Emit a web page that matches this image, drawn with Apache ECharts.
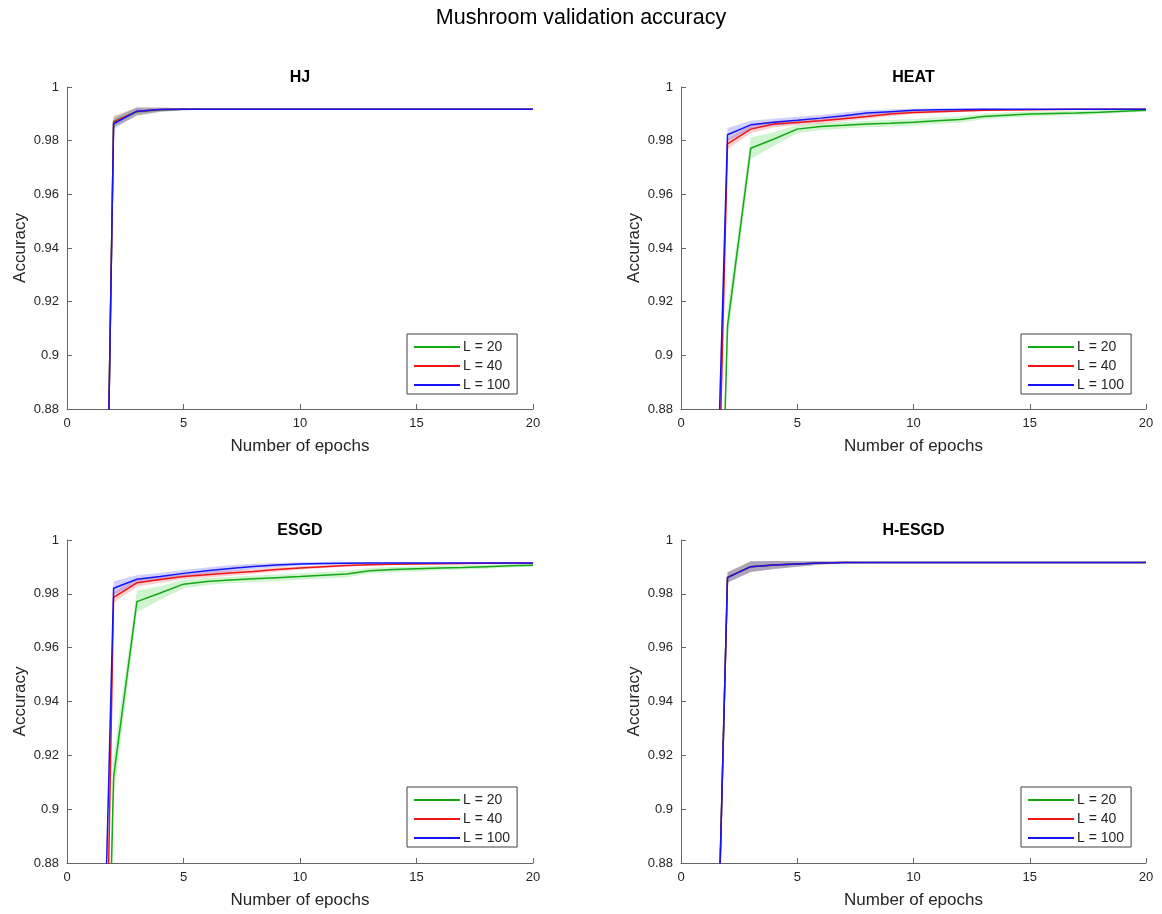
<!DOCTYPE html>
<html>
<head>
<meta charset="utf-8">
<script src="https://cdn.jsdelivr.net/npm/echarts@6/dist/echarts.min.js"></script>
<style>html,body{margin:0;padding:0;background:#fff}#c{width:1162px;height:914px}</style>
</head>
<body>
<div id="c"></div>
<script>
const epochs = [1,2,3,4,5,6,7,8,9,10,11,12,13,14,15,16,17,18,19,20];
const seriesNames = ['L = 20', 'L = 40', 'L = 100'];
const panelTitles = ['HJ', 'HEAT', 'ESGD', 'H-ESGD'];
const xTicks = [0, 5, 10, 15, 20];
const yTicks = [0.88, 0.9, 0.92, 0.94, 0.96, 0.98, 1];

// HJ
const hjG = [0.454,0.9872,0.9908,0.9915,0.9917,0.9917,0.9917,0.9917,0.9917,0.9917,0.9917,0.9917,0.9917,0.9917,0.9917,0.9917,0.9917,0.9917,0.9917,0.9917];
const hjR = [0.454,0.9870,0.9909,0.9916,0.9917,0.9917,0.9917,0.9917,0.9917,0.9917,0.9917,0.9917,0.9917,0.9917,0.9917,0.9917,0.9917,0.9917,0.9917,0.9917];
const hjB = [0.454,0.9863,0.9910,0.9916,0.9917,0.9917,0.9917,0.9917,0.9917,0.9917,0.9917,0.9917,0.9917,0.9917,0.9917,0.9917,0.9917,0.9917,0.9917,0.9917];
const hjGsd = [0.02,0.0020,0.0016,0.0008,0.0004,0.0002,0.0001,0.0001,0.0001,0.0001,0.0001,0.0001,0.0001,0.0001,0.0001,0.0001,0.0001,0.0001,0.0001,0.0001];
const hjRsd = [0.02,0.0020,0.0015,0.0008,0.0004,0.0002,0.0001,0.0001,0.0001,0.0001,0.0001,0.0001,0.0001,0.0001,0.0001,0.0001,0.0001,0.0001,0.0001,0.0001];
const hjBsd = [0.02,0.0020,0.0014,0.0007,0.0004,0.0002,0.0001,0.0001,0.0001,0.0001,0.0001,0.0001,0.0001,0.0001,0.0001,0.0001,0.0001,0.0001,0.0001,0.0001];

// HEAT
const heatG = [0.600,0.911,0.9772,0.9806,0.9843,0.9853,0.9857,0.9862,0.9865,0.9869,0.9874,0.9879,0.9890,0.9895,0.9899,0.9901,0.9903,0.9906,0.9910,0.9913];
const heatR = [0.630,0.9788,0.9843,0.9862,0.9868,0.9874,0.9882,0.9890,0.9899,0.9905,0.9908,0.9911,0.9913,0.9914,0.9915,0.9916,0.9917,0.9917,0.9917,0.9917];
const heatB = [0.680,0.9822,0.9859,0.9869,0.9876,0.9884,0.9893,0.9903,0.9908,0.9913,0.9915,0.9916,0.9917,0.9917,0.9917,0.9917,0.9917,0.9917,0.9917,0.9917];
const heatGsd = [0.04,0.0060,0.0040,0.0025,0.0015,0.0013,0.0012,0.0012,0.0012,0.0012,0.0012,0.0012,0.0010,0.0010,0.0010,0.0008,0.0008,0.0008,0.0006,0.0005];
const heatRsd = [0.02,0.0020,0.0015,0.0012,0.0010,0.0010,0.0010,0.0008,0.0008,0.0006,0.0005,0.0004,0.0003,0.0002,0.0002,0.0002,0.0002,0.0002,0.0002,0.0002];
const heatBsd = [0.02,0.0025,0.0015,0.0013,0.0013,0.0012,0.0012,0.0010,0.0008,0.0006,0.0005,0.0004,0.0003,0.0002,0.0002,0.0002,0.0002,0.0002,0.0002,0.0002];

// ESGD
const esgdG = [0.550,0.912,0.9771,0.9803,0.9836,0.9846,0.9851,0.9856,0.9860,0.9864,0.9869,0.9874,0.9886,0.9890,0.9893,0.9896,0.9898,0.9901,0.9904,0.9906];
const esgdR = [0.510,0.9787,0.9841,0.9853,0.9864,0.9871,0.9877,0.9883,0.9890,0.9896,0.9901,0.9905,0.9908,0.9910,0.9911,0.9912,0.9913,0.9914,0.9914,0.9914];
const esgdB = [0.640,0.9821,0.9854,0.9864,0.9876,0.9886,0.9894,0.9902,0.9907,0.9911,0.9913,0.9914,0.9915,0.9915,0.9915,0.9915,0.9915,0.9915,0.9915,0.9915];
const esgdGsd = [0.05,0.0080,0.0040,0.0025,0.0015,0.0013,0.0012,0.0012,0.0012,0.0012,0.0012,0.0012,0.0010,0.0010,0.0010,0.0008,0.0008,0.0008,0.0006,0.0005];
const esgdRsd = [0.02,0.0020,0.0015,0.0012,0.0010,0.0010,0.0010,0.0008,0.0008,0.0006,0.0005,0.0004,0.0003,0.0002,0.0002,0.0002,0.0002,0.0002,0.0002,0.0002];
const esgdBsd = [0.02,0.0025,0.0015,0.0013,0.0013,0.0012,0.0012,0.0010,0.0008,0.0006,0.0005,0.0004,0.0003,0.0002,0.0002,0.0002,0.0002,0.0002,0.0002,0.0002];

// H-ESGD
const hesgdG = [0.650,0.9862,0.9901,0.9907,0.9911,0.9915,0.9916,0.9916,0.9916,0.9916,0.9916,0.9916,0.9916,0.9916,0.9916,0.9916,0.9916,0.9916,0.9916,0.9916];
const hesgdR = [0.650,0.9861,0.9901,0.9907,0.9911,0.9915,0.9916,0.9916,0.9916,0.9916,0.9916,0.9916,0.9916,0.9916,0.9916,0.9916,0.9916,0.9916,0.9916,0.9916];
const hesgdB = [0.650,0.9860,0.9901,0.9907,0.9911,0.9915,0.9916,0.9916,0.9916,0.9916,0.9916,0.9916,0.9916,0.9916,0.9916,0.9916,0.9916,0.9916,0.9916,0.9916];
const hesgdGsd = [0.02,0.0019,0.0020,0.0015,0.0010,0.0006,0.0003,0.0002,0.0001,0.0001,0.0001,0.0001,0.0001,0.0001,0.0001,0.0001,0.0001,0.0001,0.0001,0.0001];
const hesgdRsd = [0.02,0.0019,0.0020,0.0015,0.0010,0.0006,0.0003,0.0002,0.0001,0.0001,0.0001,0.0001,0.0001,0.0001,0.0001,0.0001,0.0001,0.0001,0.0001,0.0001];
const hesgdBsd = [0.02,0.0019,0.0020,0.0015,0.0010,0.0006,0.0003,0.0002,0.0001,0.0001,0.0001,0.0001,0.0001,0.0001,0.0001,0.0001,0.0001,0.0001,0.0001,0.0001];

const panels = [
  {means:[hjG,hjR,hjB], sds:[hjGsd,hjRsd,hjBsd]},
  {means:[heatG,heatR,heatB], sds:[heatGsd,heatRsd,heatBsd]},
  {means:[esgdG,esgdR,esgdB], sds:[esgdGsd,esgdRsd,esgdBsd]},
  {means:[hesgdG,hesgdR,hesgdB], sds:[hesgdGsd,hesgdRsd,hesgdBsd]}
];

const lineColors = ['#14a814', '#f01414', '#1414f5'];
const bandColors = ['rgba(20,200,20,0.2)', 'rgba(240,20,20,0.2)', 'rgba(20,20,245,0.2)'];
const FONT = 'Liberation Sans, Arial, Helvetica, sans-serif';
const gridBoxes = [
  {left:67, top:87, width:466, height:322},
  {left:681, top:87, width:465, height:322},
  {left:67, top:540, width:466, height:323},
  {left:681, top:540, width:465, height:323}
];
const legendPos = [
  {left:407, top:334}, {left:1021, top:334}, {left:407, top:787}, {left:1021, top:787}
];

// Sutherland-Hodgman clipping of a polygon to a rectangle (pixel space)
function clipPolygon(pts, r) {
  const edges = [
    p => p[0] >= r.x, p => p[0] <= r.x + r.width,
    p => p[1] >= r.y, p => p[1] <= r.y + r.height
  ];
  const inter = [
    (a, b) => { const t = (r.x - a[0]) / (b[0] - a[0]); return [r.x, a[1] + t * (b[1] - a[1])]; },
    (a, b) => { const X = r.x + r.width; const t = (X - a[0]) / (b[0] - a[0]); return [X, a[1] + t * (b[1] - a[1])]; },
    (a, b) => { const t = (r.y - a[1]) / (b[1] - a[1]); return [a[0] + t * (b[0] - a[0]), r.y]; },
    (a, b) => { const Y = r.y + r.height; const t = (Y - a[1]) / (b[1] - a[1]); return [a[0] + t * (b[0] - a[0]), Y]; }
  ];
  let out = pts;
  for (let e = 0; e < 4; e++) {
    const inp = out; out = [];
    if (!inp.length) break;
    for (let i = 0; i < inp.length; i++) {
      const cur = inp[i], prev = inp[(i + inp.length - 1) % inp.length];
      const cIn = edges[e](cur), pIn = edges[e](prev);
      if (cIn) {
        if (!pIn) out.push(inter[e](prev, cur));
        out.push(cur);
      } else if (pIn) {
        out.push(inter[e](prev, cur));
      }
    }
  }
  return out;
}

function bandRenderer(mean, sd, fill) {
  return function (params, api) {
    if (params.dataIndex !== 0) return null;
    const upper = epochs.map((e, j) => api.coord([e, mean[j] + sd[j]]));
    const lower = epochs.map((e, j) => api.coord([e, mean[j] - sd[j]])).reverse();
    const pts = clipPolygon(upper.concat(lower), params.coordSys);
    if (pts.length < 3) return null;
    return {type:'polygon', shape:{points:pts}, style:{fill:fill}, silent:true};
  };
}

const grid = [], xAxis = [], yAxis = [], series = [], legend = [], graphic = [];
const axisColor = '#666666';
const labelColor = '#262626';

gridBoxes.forEach((g, i) => {
  grid.push(Object.assign({containLabel:false}, g));
  xAxis.push({
    type:'value', gridIndex:i, min:0, max:20, interval:5,
    name:'Number of epochs', nameLocation:'middle', nameGap:29,
    nameTextStyle:{fontFamily:FONT, fontSize:17, color:labelColor},
    axisLine:{show:true, onZero:false, lineStyle:{color:axisColor, width:1}},
    axisTick:{show:true, inside:true, length:5, lineStyle:{color:axisColor}},
    axisLabel:{fontFamily:FONT, fontSize:13, color:labelColor, margin:8},
    splitLine:{show:false}
  });
  yAxis.push({
    type:'value', gridIndex:i, min:0.88, max:1, interval:0.02,
    name:'Accuracy', nameLocation:'middle', nameGap:38,
    nameTextStyle:{fontFamily:FONT, fontSize:17, color:labelColor},
    axisLine:{show:true, onZero:false, lineStyle:{color:axisColor, width:1}},
    axisTick:{show:true, inside:true, length:5, lineStyle:{color:axisColor}},
    axisLabel:{fontFamily:FONT, fontSize:13, color:labelColor, margin:8,
      formatter: v => String(parseFloat(Number(v).toFixed(2)))},
    splitLine:{show:false}
  });
  const p = panels[i];
  for (let k = 0; k < 3; k++) {
    const m = p.means[k], s = p.sds[k];
    series.push({
      type:'custom', name:'band', coordinateSystem:'cartesian2d',
      xAxisIndex:i, yAxisIndex:i,
      data: epochs.map((e, j) => [e, m[j] - s[j], m[j] + s[j]]),
      encode:{x:0, y:[1, 2]},
      renderItem: bandRenderer(m, s, bandColors[k]),
      silent:true, z:1
    });
  }
  for (let k = 0; k < 3; k++) {
    series.push({
      type:'line', name:seriesNames[k], xAxisIndex:i, yAxisIndex:i,
      data: epochs.map((e, j) => [e, p.means[k][j]]),
      symbol:'none', color:lineColors[k],
      lineStyle:{color:lineColors[k], width:1.5},
      itemStyle:{color:lineColors[k]},
      z:3, clip:true, silent:true
    });
  }
  legend.push({
    show:true, orient:'vertical', left:legendPos[i].left, top:legendPos[i].top,
    data:seriesNames, icon:'rect', itemWidth:46, itemHeight:2, itemGap:5,
    padding:[6, 7, 2, 7], backgroundColor:'#ffffff', borderColor:'#404040', borderWidth:1,
    selectedMode:false,
    textStyle:{fontFamily:FONT, fontSize:14, color:labelColor, lineHeight:14, padding:[0,0,0,-2]}
  });
  graphic.push({
    type:'text', x: g.left + g.width / 2, y: g.top - 9,
    style:{text:panelTitles[i], fontFamily:FONT, fontSize:16, fontWeight:'bold',
      fill:'#000', align:'center', verticalAlign:'middle'}
  });
});

graphic.push({
  type:'text', x:581, y:18,
  style:{text:'Mushroom validation accuracy', fontFamily:FONT, fontSize:21.5,
    fill:'#000', align:'center', verticalAlign:'middle'}
});

const chart = echarts.init(document.getElementById('c'), null, {renderer:'canvas'});
chart.setOption({
  animation:false,
  backgroundColor:'#ffffff',
  grid, xAxis, yAxis, series, legend, graphic,
  tooltip:{show:false}
});
</script>
</body>
</html>
